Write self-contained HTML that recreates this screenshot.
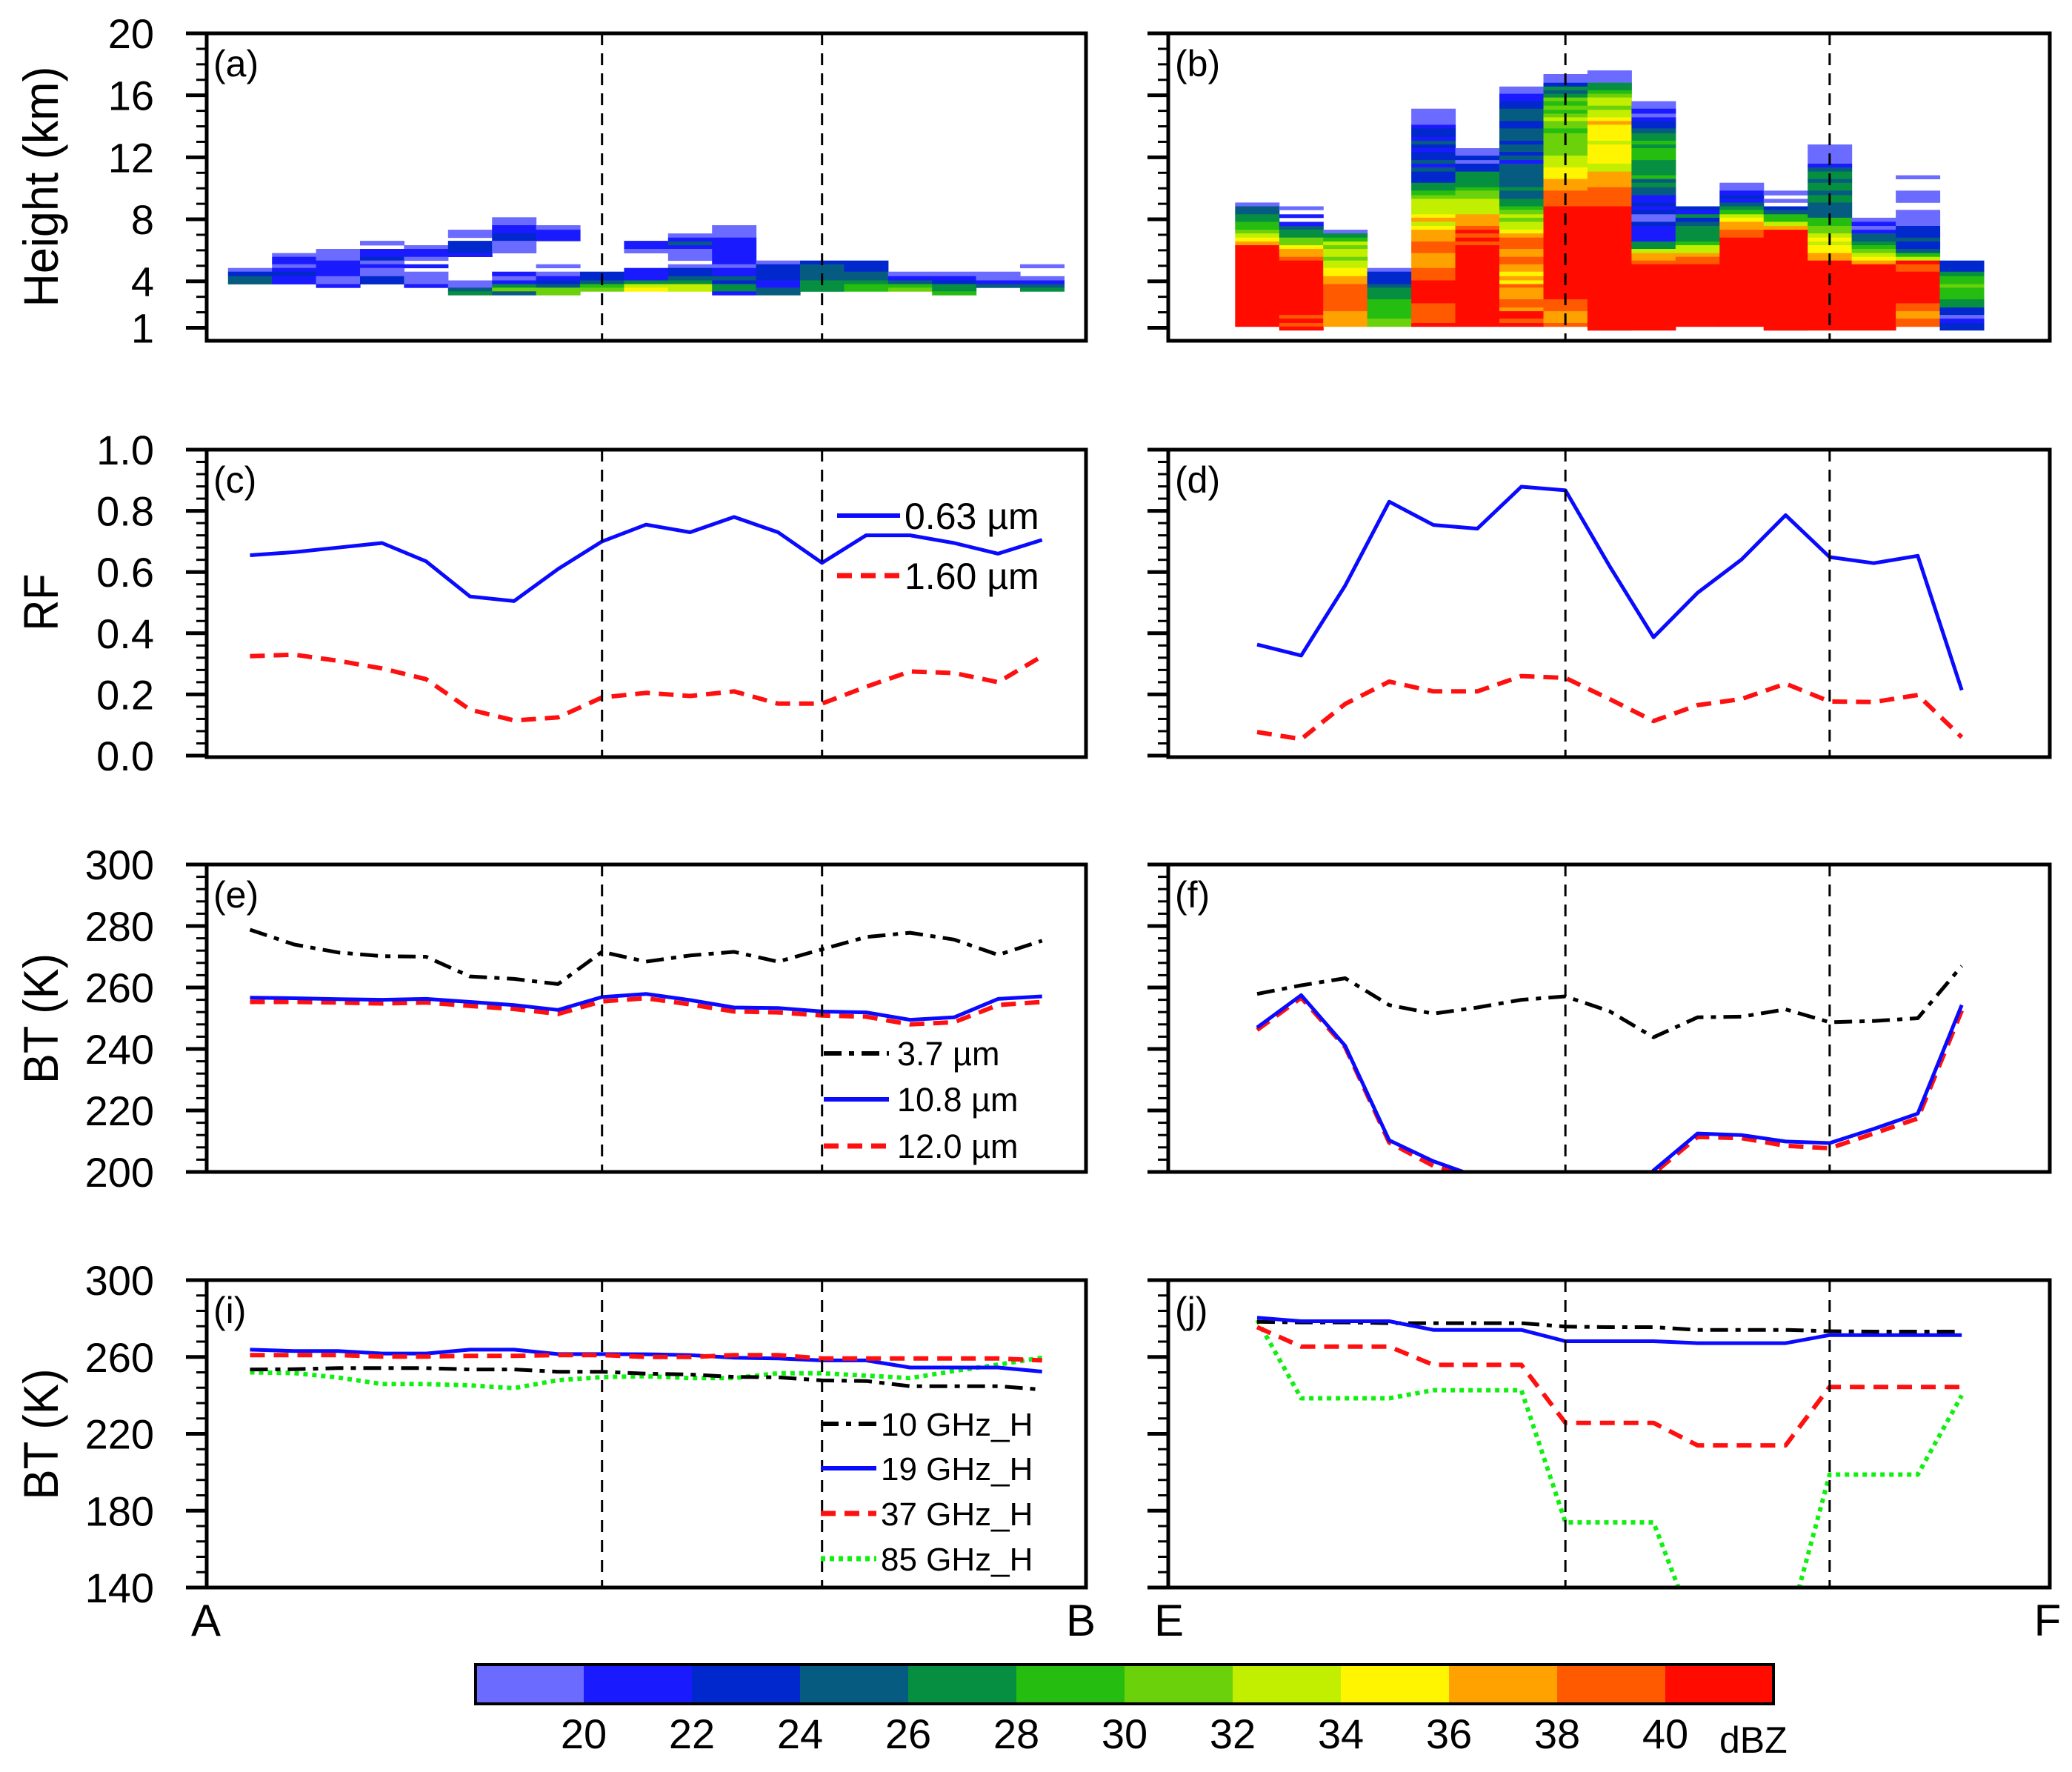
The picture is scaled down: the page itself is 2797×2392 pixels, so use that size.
<!DOCTYPE html>
<html><head><meta charset="utf-8"><style>
html,body{margin:0;padding:0;background:#fff;}
svg{display:block;font-family:"Liberation Sans",sans-serif;}
</style></head><body>
<svg id="fig" xmlns="http://www.w3.org/2000/svg" width="2797" height="2392" viewBox="0 0 2797 2392"></svg>
<script>
// ---------- DATA ----------
const cbColors=["#6b6bff","#1a1aff","#0028cc","#065c80","#068f40","#25bd10","#6bd10a","#c2ef00","#fff500","#ffa200","#ff5a00","#ff0b00"];
const cbLabels=["20","22","24","26","28","30","32","34","36","38","40"];
// (a) reflectivity columns: [top km, bottom km, colour class]
const radarA=[
[[4.86,4.62,0],[4.62,4.33,2],[4.33,3.82,3]],
[[5.82,5.58,0],[5.58,5.10,1],[5.10,4.86,0],[4.86,4.62,1],[4.62,4.33,2],[4.33,3.82,1]],
[[6.09,5.34,0],[5.34,4.33,1],[4.33,3.82,0],[3.82,3.59,1]],
[[6.61,6.33,0],[6.09,5.58,1],[5.58,5.34,2],[5.34,5.10,0],[5.10,4.86,1],[4.86,4.33,0],[4.33,3.82,2]],
[[6.33,6.09,0],[6.09,5.58,1],[5.58,5.34,0],[5.10,4.86,1],[4.62,3.82,0],[3.82,3.59,1]],
[[7.33,6.82,0],[6.61,5.82,2],[5.82,5.58,1],[4.06,3.59,0],[3.59,3.35,3],[3.35,3.11,4]],
[[8.13,7.62,0],[7.62,7.09,1],[7.09,6.61,2],[6.61,5.82,0],[4.62,4.33,1],[4.33,4.06,0],[4.06,3.82,1],[3.82,3.59,4],[3.59,3.35,6],[3.35,3.11,3]],
[[7.62,7.33,0],[7.33,6.61,1],[5.10,4.86,0],[4.62,4.33,0],[4.33,4.06,1],[4.06,3.82,2],[3.82,3.59,3],[3.59,3.11,6]],
[[4.62,4.06,2],[4.06,3.82,3],[3.82,3.59,5],[3.59,3.35,6]],
[[6.61,6.09,1],[6.09,5.82,0],[4.86,4.06,1],[4.06,3.82,4],[3.82,3.59,7],[3.59,3.35,8]],
[[7.09,6.82,0],[6.82,6.57,1],[6.57,6.33,3],[6.33,6.09,1],[6.09,5.34,0],[5.10,4.86,0],[4.86,4.33,2],[4.33,4.06,3],[4.06,3.82,4],[3.82,3.35,7]],
[[7.62,6.82,0],[6.82,5.10,1],[5.10,4.86,0],[4.86,4.33,1],[4.33,4.06,3],[4.06,3.82,2],[3.82,3.35,4],[3.35,3.11,1]],
[[5.34,5.10,0],[5.10,4.06,2],[4.06,3.59,1],[3.59,3.11,3]],
[[5.34,5.10,2],[5.10,4.06,3],[4.06,3.35,4]],
[[5.34,4.62,2],[4.62,4.06,3],[4.06,3.82,4],[3.82,3.35,5]],
[[4.62,4.33,0],[4.33,4.06,1],[4.06,3.82,3],[3.82,3.59,5],[3.59,3.35,6]],
[[4.62,4.33,0],[4.33,4.06,1],[4.06,3.82,2],[3.82,3.35,4],[3.35,3.11,5]],
[[4.62,4.06,0],[4.06,3.82,1],[3.82,3.59,3]],
[[5.10,4.86,0],[4.33,4.06,0],[4.06,3.82,1],[3.82,3.59,3],[3.59,3.35,4]]
];
// (b) reflectivity columns
const radarB=[
[[9.08,8.84,0],[8.84,8.32,3],[8.32,7.84,4],[7.84,7.33,5],[7.33,7.09,6],[7.09,6.82,7],[6.82,6.57,8],[6.57,6.33,9],[6.33,1.08,11]],
[[8.84,8.61,0],[8.32,8.10,1],[7.84,7.57,1],[7.57,7.33,3],[7.33,6.82,4],[6.82,6.33,6],[6.33,6.09,8],[6.09,5.58,9],[5.58,5.34,10],[5.34,1.83,11],[1.83,1.59,10],[1.59,1.31,11],[1.31,1.08,10],[1.08,0.84,11]],
[[7.33,7.09,0],[7.09,6.82,4],[6.82,6.57,5],[6.57,6.33,7],[6.33,6.09,6],[6.09,5.58,7],[5.58,5.34,6],[5.34,4.86,7],[4.86,4.33,8],[4.33,3.82,9],[3.82,2.07,10],[2.07,1.08,9]],
[[4.86,4.62,0],[4.62,3.82,2],[3.82,3.59,3],[3.59,2.84,4],[2.84,1.59,5],[1.59,1.08,6]],
[[15.14,14.10,0],[14.10,13.86,1],[13.86,13.31,2],[13.31,13.07,1],[13.07,12.83,3],[12.83,12.59,2],[12.59,12.35,1],[12.35,11.82,2],[11.82,11.59,3],[11.59,11.35,1],[11.35,11.08,3],[11.08,10.36,2],[10.36,9.85,4],[9.85,9.56,5],[9.56,9.32,6],[9.32,8.32,7],[8.32,8.10,8],[8.10,7.84,9],[7.84,7.57,7],[7.57,7.33,8],[7.33,6.57,9],[6.57,5.82,10],[5.82,4.86,9],[4.86,4.06,10],[4.06,2.58,11],[2.58,1.31,10],[1.31,1.08,11]],
[[12.59,12.11,0],[12.11,11.82,2],[11.82,11.59,0],[11.59,11.08,2],[11.08,10.07,4],[10.07,9.85,5],[9.85,9.32,6],[9.32,8.32,7],[8.32,7.57,9],[7.57,7.33,10],[7.33,7.09,11],[7.09,6.82,10],[6.82,6.57,11],[6.57,6.33,10],[6.33,1.08,11]],
[[16.57,16.10,0],[16.10,15.62,1],[15.62,15.14,2],[15.14,14.34,3],[14.34,13.86,2],[13.86,13.07,3],[13.07,12.83,2],[12.83,12.35,3],[12.35,12.11,2],[12.11,11.82,3],[11.82,11.59,1],[11.59,10.07,3],[10.07,9.85,4],[9.85,9.32,3],[9.32,8.84,4],[8.84,8.61,5],[8.61,8.32,6],[8.32,8.10,7],[8.10,7.84,6],[7.84,7.33,7],[7.33,7.09,8],[7.09,6.82,9],[6.82,6.09,10],[6.09,5.58,9],[5.58,5.10,10],[5.10,4.62,9],[4.62,4.33,8],[4.33,4.06,9],[4.06,3.82,8],[3.82,3.59,10],[3.59,2.84,9],[2.84,2.31,10],[2.31,2.07,9],[2.07,1.59,11],[1.59,1.31,10],[1.31,1.08,11]],
[[17.37,16.81,0],[16.81,16.57,2],[16.57,16.33,4],[16.33,16.10,3],[16.10,15.86,4],[15.86,15.62,6],[15.62,15.33,5],[15.33,15.06,6],[15.06,14.82,5],[14.82,14.58,6],[14.58,14.34,7],[14.34,13.86,6],[13.86,13.55,5],[13.55,12.11,6],[12.11,11.35,7],[11.35,10.60,8],[10.60,9.85,9],[9.85,8.84,10],[8.84,2.84,11],[2.84,2.07,10],[2.07,1.31,9],[1.31,1.08,10]],
[[17.61,16.81,0],[16.81,16.33,4],[16.33,16.10,5],[16.10,15.86,6],[15.86,15.33,7],[15.33,15.06,6],[15.06,14.58,7],[14.58,14.34,8],[14.34,14.10,9],[14.10,13.07,8],[13.07,12.83,7],[12.83,11.59,8],[11.59,11.08,7],[11.08,10.07,9],[10.07,8.84,10],[8.84,0.84,11]],
[[15.62,15.14,0],[15.14,14.82,1],[14.82,14.58,0],[14.58,14.34,1],[14.34,13.86,2],[13.86,13.55,3],[13.55,13.07,4],[13.07,12.83,5],[12.83,12.59,4],[12.59,11.82,5],[11.82,10.84,4],[10.84,10.60,5],[10.60,10.36,3],[10.36,10.07,4],[10.07,9.56,3],[9.56,9.08,1],[9.08,8.84,2],[8.84,8.61,1],[8.61,8.32,2],[8.32,7.84,0],[7.84,7.57,2],[7.57,6.57,1],[6.57,6.09,4],[6.09,5.82,7],[5.82,5.34,9],[5.34,5.10,10],[5.10,0.84,11]],
[[8.84,8.61,2],[8.61,8.32,1],[8.32,8.10,4],[8.10,7.84,2],[7.84,7.57,3],[7.57,6.57,4],[6.57,6.33,5],[6.33,5.82,7],[5.82,5.58,9],[5.58,5.10,10],[5.10,1.08,11]],
[[10.36,9.85,0],[9.85,9.56,1],[9.56,9.32,2],[9.32,9.08,1],[9.08,8.84,3],[8.84,8.61,4],[8.61,8.32,5],[8.32,8.10,7],[8.10,7.84,8],[7.84,7.33,9],[7.33,6.82,10],[6.82,1.08,11]],
[[9.85,9.56,0],[9.32,9.08,0],[8.84,8.61,2],[8.61,8.32,3],[8.32,7.84,5],[7.84,7.57,7],[7.57,7.33,9],[7.33,0.84,11]],
[[12.83,11.59,0],[11.59,11.35,1],[11.35,11.08,3],[11.08,10.60,4],[10.60,10.36,3],[10.36,9.85,4],[9.85,9.56,3],[9.56,9.08,4],[9.08,8.10,3],[8.10,7.57,5],[7.57,7.09,6],[7.09,6.82,7],[6.82,6.57,8],[6.57,6.33,7],[6.33,5.82,8],[5.82,5.34,9],[5.34,0.84,11]],
[[8.10,7.84,0],[7.84,7.57,1],[7.57,7.33,0],[7.33,7.09,1],[7.09,6.57,3],[6.57,6.33,4],[6.33,6.09,5],[6.09,5.82,6],[5.82,5.58,7],[5.58,5.34,8],[5.34,5.10,9],[5.10,0.84,11]],
[[10.84,10.60,0],[9.85,9.08,0],[8.61,7.57,0],[7.57,6.82,2],[6.82,6.57,3],[6.57,6.09,2],[6.09,5.82,3],[5.82,5.58,5],[5.58,5.34,7],[5.34,5.10,11],[5.10,4.62,10],[4.62,2.58,11],[2.58,2.07,10],[2.07,1.59,9],[1.59,1.08,10]],
[[5.34,4.62,2],[4.62,4.33,4],[4.33,3.82,5],[3.82,3.59,6],[3.59,2.84,5],[2.84,2.31,4],[2.31,1.83,2],[1.83,1.59,0],[1.59,1.31,1],[1.31,0.84,2]]
];
// (c),(d) reflectance
const rf063L=[0.655,0.665,0.68,0.695,0.635,0.52,0.505,0.61,0.70,0.755,0.73,0.78,0.73,0.63,0.72,0.72,0.695,0.66,0.705];
const rf160L=[0.325,0.33,0.31,0.285,0.25,0.15,0.115,0.125,0.19,0.205,0.195,0.21,0.17,0.17,0.225,0.275,0.27,0.24,0.325];
const rf063R=[0.363,0.327,0.556,0.83,0.754,0.742,0.879,0.867,0.62,0.387,0.532,0.641,0.786,0.649,0.629,0.653,0.214];
const rf160R=[0.077,0.054,0.169,0.242,0.21,0.21,0.26,0.254,0.185,0.113,0.165,0.185,0.235,0.177,0.175,0.198,0.06];
// (e),(f) IR brightness temperature
const bt37L=[278.8,274,271.4,270.2,270,263.6,262.8,261.1,271.6,268.4,270.4,271.6,268.4,272.4,276.4,277.8,275.6,270.6,275.2];
const bt108L=[256.7,256.5,256.2,256,256.3,255.3,254.3,252.7,256.9,257.9,255.9,253.5,253.3,252.2,251.9,249.5,250.3,256.3,257.1];
const bt120L=[255.3,255.3,255.1,254.8,255.1,254,253,251.4,255.5,256.5,254.5,252.2,251.9,250.9,250.5,248,248.7,254.3,255.3];
const bt37R=[257.9,260.7,263,254.3,251.5,253.5,256,257.1,252.3,243.8,250.3,250.5,252.9,248.7,249.1,250,267];
const bt108R=[247,257.5,241,210.3,203.5,198.4,188,185,182,200.5,212.5,212,209.9,209.4,214,219,254.3];
const bt120R=[246.2,256.7,240.6,209.6,202,197.5,187,184,181,199.5,211.4,211,208.5,207.7,212.5,217.4,252.5];
// (i),(j) microwave brightness temperature
const mw10L=[253.5,253.6,254.2,254.2,254.2,253.5,253.5,252.3,252.3,251.3,250.9,249.6,249.4,247.8,247.5,244.8,244.8,244.8,243];
const mw19L=[263.8,263.1,263.1,261.8,261.8,263.8,263.8,261.5,261.5,261.4,261,259.6,259.2,258.2,258.2,254.5,254.5,254.5,252.4];
const mw37L=[261,261,261,260.2,260.2,260.6,260.6,261,261,260,260,261,261,259.2,259.2,259.2,259.2,259.2,258.2];
const mw85L=[252,251.6,249.3,245.9,245.9,245.2,243.8,247.9,249.5,250,249,249,251.5,251.5,250.3,249,252.7,256,259.6];
const mw10R=[278.3,278,278,277.6,277.6,277.6,277.6,275.8,275.5,275.5,274.1,274.1,274.1,273.4,273.2,273.2,273.2];
const mw19R=[280.4,278.6,278.6,278.6,274.1,274.1,274.1,268.2,268.2,268.2,267.2,267.2,267.2,271.4,271.4,271.4,271.4];
const mw37R=[275.5,265.4,265.4,265.4,255.9,255.9,255.9,225.7,225.7,225.7,214,214,214,244.4,244.4,244.4,244.4];
const mw85R=[279.3,238.5,238.5,238.5,242.7,242.7,242.7,173.9,173.9,173.9,114,114,114,198.8,198.8,198.8,240];
const ticksA=[1,4,8,12,16,20];
const ticksC=["0.0","0.2","0.4","0.6","0.8","1.0"];
const ticksE=[200,220,240,260,280,300];
const ticksI=[140,180,220,260,300];

// ---------- LAYOUT ----------
const NS="http://www.w3.org/2000/svg";
const svg=document.getElementById('fig');
function el(tag,parent){const e=document.createElementNS(NS,tag);(parent||svg).appendChild(e);return e;}
function set(e,o){for(const k in o)e.setAttribute(k,o[k]);return e;}
const colL={x0:279,x1:1466,xi:i=>337.5+59.4*i,dash:[8,13]};
const colR={x0:1577,x1:2767,xi:i=>1697+59.45*i,dash:[7,13]};
const PH=415;
const rows=[
 {top:45, y:v=>45+(20-v)*20.92, ticks:ticksA, lab:v=>String(v), minor:(()=>{const a=[];for(let h=1;h<=20;h++)a.push(h);return a;})()},
 {top:607, y:v=>607+(1-v)*413, ticks:ticksC.map(Number), lab:v=>v.toFixed(1), minor:(()=>{const a=[];for(let k=0;k<=25;k++)a.push(k*0.04);return a;})()},
 {top:1167, y:v=>1167+(300-v)*4.15, ticks:ticksE, lab:v=>String(v), minor:(()=>{const a=[];for(let k=200;k<=300;k+=4)a.push(k);return a;})()},
 {top:1728, y:v=>1728+(300-v)*415/160, ticks:ticksI, lab:v=>String(v), minor:(()=>{const a=[];for(let k=140;k<=300;k+=8)a.push(k);return a;})()}
];
const panelNames=[["a","b"],["c","d"],["e","f"],["i","j"]];
const defs=el('defs');
function clipFor(col,row,id){const cp=el('clipPath',defs);set(cp,{id:id});const r=el('rect',cp);set(r,{x:col.x0,y:row.top,width:col.x1-col.x0,height:PH});}

function line(g,col,row,vals,color,w,dash,name){
  const p=el('polyline',g);
  
  
  set(p,{points:vals.map((v,i)=>col.xi(i).toFixed(1)+','+row.y(v).toFixed(1)).join(' '),fill:'none',stroke:color,'stroke-width':w,'stroke-linejoin':'round'});
  if(dash)p.setAttribute('stroke-dasharray',dash);
}
const styles={blue:['#0a0aff',5,null],red:['#ff1010',6,'20 12'],black:['#000',5,'24 10 7 10'],green:['#10f010',6,'6 6']};

[colL,colR].forEach((col,ci)=>{
 rows.forEach((row,ri)=>{
  const pn=panelNames[ri][ci];
  const g=el('g');
  
  
  const cid='clip'+pn;clipFor(col,row,cid);
  const data=el('g',g);set(data,{'clip-path':'url(#'+cid+')'});
  
  
  if(ri===0){
   const cols=ci===0?radarA:radarB;
   cols.forEach((segs,i)=>{segs.forEach(s=>{
     const r=el('rect',data);
     
     
     const y1=row.y(s[0]),y2=row.y(s[1]);
     set(r,{x:(col.xi(i)-29.7).toFixed(1),y:y1.toFixed(1),width:60,height:(y2-y1+0.4).toFixed(1),fill:cbColors[s[2]]});
   });});
  } else if(ri===1){
   line(data,col,row,ci===0?rf063L:rf063R,...styles.blue,'series-0.63um');
   line(data,col,row,ci===0?rf160L:rf160R,...styles.red,'series-1.60um');
  } else if(ri===2){
   line(data,col,row,ci===0?bt37L:bt37R,...styles.black,'series-3.7um');
   line(data,col,row,ci===0?bt120L:bt120R,...styles.red,'series-12.0um');
   line(data,col,row,ci===0?bt108L:bt108R,...styles.blue,'series-10.8um');
  } else {
   line(data,col,row,ci===0?mw85L:mw85R,...styles.green,'series-85ghz');
   line(data,col,row,ci===0?mw10L:mw10R,...styles.black,'series-10ghz');
   line(data,col,row,ci===0?mw19L:mw19R,...styles.blue,'series-19ghz');
   line(data,col,row,ci===0?mw37L:mw37R,...styles.red,'series-37ghz');
  }
  col.dash.forEach(i=>{
   const l=el('line',g);
   
   
   set(l,{x1:col.xi(i),x2:col.xi(i),y1:row.top,y2:row.top+PH,stroke:'#000','stroke-width':3,'stroke-dasharray':'16 11'});
  });
  row.minor.forEach(v=>{
   const t=el('line',g);
   
   
   set(t,{x1:col.x0-14,x2:col.x0,y1:row.y(v),y2:row.y(v),stroke:'#000','stroke-width':3});
  });
  row.ticks.forEach(v=>{
   const t=el('line',g);
   
   
   set(t,{x1:col.x0-28,x2:col.x0,y1:row.y(v),y2:row.y(v),stroke:'#000','stroke-width':5});
   if(ci===0){
    const tx=el('text',g);
    
    
    set(tx,{x:208,y:row.y(v)+20,'text-anchor':'end','font-size':56});
    tx.textContent=row.lab(v);
   }
  });
  const fr=el('rect',g);
  
  
  set(fr,{x:col.x0,y:row.top,width:col.x1-col.x0,height:PH,fill:'none',stroke:'#000','stroke-width':5});
  const pl=el('text',g);
  
  
  set(pl,{x:col.x0+9,y:row.top+58,'font-size':50});
  pl.textContent='('+pn+')';
 });
});

[["Height (km)",252,325],["RF",813,77],["BT (K)",1375,176],["BT (K)",1936,177]].forEach(t=>{
 const tx=el('text');
 
 
 set(tx,{x:0,y:0,transform:'translate(78,'+t[1]+') rotate(-90)','text-anchor':'middle','font-size':66,textLength:t[2],lengthAdjust:'spacingAndGlyphs'});
 tx.textContent=t[0];
});
[["A",278],["B",1459],["E",1578],["F",2764]].forEach(t=>{
 const tx=el('text');
 
 
 set(tx,{x:t[1],y:2208,'text-anchor':'middle','font-size':60});
 tx.textContent=t[0];
});
function legend(items,x1,x2,tx0,fs,name){
 items.forEach(it=>{
  const g=el('g');
  
  
  const l=el('line',g);set(l,{x1:x1,x2:x2,y1:it[2],y2:it[2],stroke:styles[it[1]][0],'stroke-width':styles[it[1]][1]+1});
  if(styles[it[1]][2])l.setAttribute('stroke-dasharray',styles[it[1]][2]);
  const t=el('text',g);set(t,{x:tx0,y:it[2]+fs*0.36,'font-size':fs});t.textContent=it[0];
 });
}
legend([["0.63 µm","blue",696],["1.60 µm","red",777]],1130,1215,1221,50,'legend-entry');
legend([["3.7 µm","black",1422],["10.8 µm","blue",1484],["12.0 µm","red",1547]],1112,1200,1211,45,'legend-entry');
legend([["10 GHz_H","black",1922],["19 GHz_H","blue",1982],["37 GHz_H","red",2043],["85 GHz_H","green",2104]],1108,1183,1189,44,'legend-entry');

const cb=el('g');


const cbX0=642,cbW=146,cbY=2247,cbH=53;
cbColors.forEach((c,i)=>{
 const r=el('rect',cb);
 
 
 set(r,{x:cbX0+i*cbW,y:cbY,width:cbW+0.5,height:cbH,fill:c});
});
const cbf=el('rect',cb);set(cbf,{x:cbX0,y:cbY,width:cbW*12,height:cbH,fill:'none',stroke:'#000','stroke-width':4});
cbLabels.forEach((s,i)=>{
 const t=el('text',cb);
 
 
 set(t,{x:cbX0+(i+1)*cbW,y:2360,'text-anchor':'middle','font-size':56});
 t.textContent=s;
});
const du=el('text',cb);


set(du,{x:2321,y:2366,'font-size':50});du.textContent='dBZ';
</script>
</body></html>
